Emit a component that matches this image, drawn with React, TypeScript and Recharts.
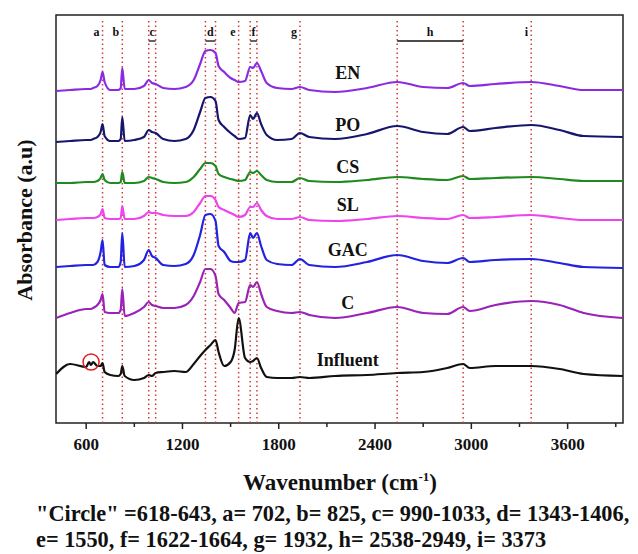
import React from 'react'
import { LineChart, Line, XAxis, YAxis, ReferenceLine, ReferenceDot, ReferenceArea } from 'recharts'

const FONT = "'Liberation Serif', 'Times New Roman', serif"

// wavenumber grid (cm-1)
const wavenumbers = [
  413, 500, 600, 618, 630, 643, 670, 690, 702, 715, 750,
  800, 815, 825, 840, 900, 960, 990, 1010, 1033, 1080,
  1150, 1220, 1270, 1310, 1343, 1375, 1406, 1425, 1460, 1500,
  1525, 1550, 1590, 1622, 1640, 1664, 1690, 1725, 1790, 1880,
  1932, 1990, 2150, 2350, 2538, 2700, 2850, 2949, 2990, 3150,
  3373, 3550, 3700, 3944,
]

// stacked absorbance (offset a.u.)
const en = [
  332, 333, 334, 334, 334, 335, 337, 343, 351, 341, 333,
  333, 335, 355, 334, 334, 337, 343, 340, 339, 335,
  334, 336, 343, 359, 372, 373, 370, 357, 351, 345,
  343, 341, 342, 356, 355, 360, 352, 340, 335, 334,
  336, 333, 331, 335, 341, 336, 335, 340, 337, 339,
  341, 337, 333, 333,
]
const po = [
  281, 282, 283, 283, 283, 284, 286, 291, 299, 287, 282,
  282, 284, 306, 282, 283, 286, 293, 291, 290, 284,
  282, 284, 293, 311, 325, 326, 322, 303, 296, 290,
  287, 284, 285, 308, 304, 310, 299, 288, 283, 284,
  290, 286, 284, 289, 297, 291, 289, 296, 292, 295,
  298, 293, 287, 286,
]
const cs = [
  240, 240, 241, 241, 241, 241, 242, 245, 249, 243, 240,
  240, 241, 251, 240, 240, 242, 246, 245, 244, 241,
  240, 241, 246, 254, 260, 260, 257, 249, 246, 244,
  243, 242, 243, 251, 250, 252, 248, 243, 241, 241,
  245, 242, 241, 243, 246, 244, 243, 247, 244, 245,
  246, 244, 242, 242,
]
const sl = [
  203, 204, 205, 205, 205, 205, 206, 209, 214, 205, 204,
  204, 205, 217, 204, 204, 207, 211, 210, 210, 208,
  207, 207, 211, 220, 227, 227, 223, 216, 213, 210,
  208, 206, 208, 216, 216, 220, 213, 207, 204, 204,
  206, 203, 202, 204, 207, 205, 204, 208, 205, 206,
  208, 205, 203, 203,
]
const gac = [
  156, 157, 158, 158, 158, 158, 161, 171, 183, 158, 156,
  156, 161, 190, 156, 157, 163, 173, 167, 165, 158,
  157, 159, 168, 188, 208, 209, 202, 177, 171, 162,
  161, 161, 163, 190, 185, 190, 177, 163, 159, 158,
  164, 158, 156, 161, 168, 162, 160, 165, 161, 163,
  164, 160, 156, 155,
]
const c = [
  105, 110, 114, 114, 114, 115, 118, 123, 129, 111, 110,
  110, 113, 134, 107, 110, 116, 121, 118, 117, 115,
  115, 118, 127, 141, 154, 154, 147, 129, 123, 115,
  110, 120, 121, 138, 136, 141, 129, 116, 112, 110,
  111, 108, 105, 110, 116, 110, 109, 116, 112, 118,
  122, 118, 110, 105,
]
const influent = [
  49, 59, 56, 61, 58, 61, 57, 57, 60, 51, 48,
  47, 49, 57, 47, 43, 45, 48, 47, 50, 51,
  52, 51, 59, 67, 73, 78, 83, 71, 57, 61,
  73, 105, 65, 61, 62, 65, 55, 46, 45, 45,
  46, 45, 47, 48, 50, 51, 55, 59, 55, 57,
  57, 54, 49, 47,
]

const seriesNames = ['EN', 'PO', 'CS', 'SL', 'GAC', 'C', 'Influent']
const seriesValues = [en, po, cs, sl, gac, c, influent]
const seriesColors = ['#8a2be2', '#16166e', '#1f8a1f', '#ee44ee', '#2222e0', '#9a22b8', '#111111']
const labelLevels = [350, 298, 256, 218, 173, 120, 63]
const labelAt = 2230

const xTicks = [600, 900, 1200, 1500, 1800, 2100, 2400, 2700, 3000, 3300, 3600, 3900]
const majorTicks = [600, 1200, 1800, 2400, 3000, 3600]

const bandLines = [702, 825, 990, 1033, 1343, 1406, 1550, 1622, 1664, 1932, 2538, 2949, 3373]
const bandLabels: { text: string; from: number; to: number }[] = [
  { text: 'a', from: 702, to: 702 },
  { text: 'b', from: 825, to: 825 },
  { text: 'c', from: 990, to: 1033 },
  { text: 'd', from: 1343, to: 1406 },
  { text: 'e', from: 1550, to: 1550 },
  { text: 'f', from: 1622, to: 1664 },
  { text: 'g', from: 1932, to: 1932 },
  { text: 'h', from: 2538, to: 2949 },
  { text: 'i', from: 3373, to: 3373 },
]
const circleRange = [618, 643]

const X_DOMAIN: [number, number] = [412, 3945]
const Y_DOMAIN: [number, number] = [0, 408]

const data = wavenumbers.map((w, i) => {
  const row: Record<string, number> = { w }
  seriesNames.forEach((n, k) => {
    row[n] = seriesValues[k][i]
  })
  return row
})

const circleY = Math.max(
  ...wavenumbers.map((w, i) => (w >= circleRange[0] && w <= circleRange[1] ? influent[i] : 0))
)

const WaveTick = (props: any) => {
  const { x, y, payload } = props
  const major = majorTicks.includes(payload.value)
  return (
    <g>
      <line x1={x} x2={x} y1={y} y2={y + (major ? 6 : 4)} stroke="#222" strokeWidth={1.5} />
      {major && (
        <text x={x} y={y + 27} textAnchor="middle" fontFamily={FONT} fontWeight="bold" fontSize={17} fill="#111">
          {payload.value}
        </text>
      )}
    </g>
  )
}

export default function App() {
  return (
    <div style={{ position: 'fixed', left: 0, top: 0, width: 638, height: 554, overflow: 'hidden', background: '#fff' }}>
      <div style={{ position: 'absolute', left: 0, top: 0 }}>
        <LineChart width={638} height={554} data={data} margin={{ top: 15, right: 15, left: 56, bottom: 101 }}>
          <XAxis
            dataKey="w"
            type="number"
            domain={X_DOMAIN}
            allowDataOverflow
            ticks={xTicks}
            interval={0}
            axisLine={false}
            tickLine={false}
            tickSize={0}
            tickMargin={0}
            height={30}
            tick={<WaveTick />}
          />
          <YAxis hide type="number" domain={Y_DOMAIN} allowDataOverflow />
          {bandLines.map((w) => (
            <ReferenceLine
              key={w}
              segment={[
                { x: w, y: 0 },
                { x: w, y: 403 },
              ]}
              stroke="#d23a3a"
              strokeWidth={1.5}
              strokeDasharray="1.5 3"
            />
          ))}
          {bandLabels
            .filter((b) => b.from !== b.to)
            .map((b) => (
              <ReferenceLine
                key={'u' + b.text}
                segment={[
                  { x: b.from, y: 382 },
                  { x: b.to, y: 382 },
                ]}
                stroke="#111"
                strokeWidth={1.3}
              />
            ))}
          {bandLabels.map((b) => (
            <ReferenceDot
              key={'l' + b.text}
              x={(b.from + b.to) / 2}
              y={387}
              r={0}
              shape={(p: any) => (
                <text
                  x={b.from === b.to ? p.cx - 3 : p.cx}
                  y={p.cy}
                  textAnchor={b.from === b.to ? 'end' : 'middle'}
                  fontFamily={FONT}
                  fontWeight="bold"
                  fontSize={12}
                  fill="#111"
                >
                  {b.text}
                </text>
              )}
            />
          ))}
          {seriesNames.map((n, k) => (
            <Line
              key={n}
              dataKey={n}
              type="monotone"
              stroke={seriesColors[k]}
              strokeWidth={2.2}
              dot={false}
              isAnimationActive={false}
            />
          ))}
          {seriesNames.map((n, k) => (
            <ReferenceDot
              key={'n' + n}
              x={labelAt}
              y={labelLevels[k]}
              r={0}
              shape={(p: any) => (
                <text
                  x={p.cx}
                  y={p.cy}
                  textAnchor="middle"
                  dominantBaseline="central"
                  fontFamily={FONT}
                  fontWeight="bold"
                  fontSize={18}
                  fill="#111"
                >
                  {n}
                </text>
              )}
            />
          ))}
          <ReferenceDot
            x={(circleRange[0] + circleRange[1]) / 2}
            y={circleY}
            r={8}
            fill="none"
            stroke="#e02020"
            strokeWidth={1.5}
          />
          <ReferenceArea
            x1={X_DOMAIN[0]}
            x2={X_DOMAIN[1]}
            y1={Y_DOMAIN[0]}
            y2={Y_DOMAIN[1]}
            fill="none"
            fillOpacity={0}
            stroke="#222"
            strokeWidth={1.5}
          />
        </LineChart>
      </div>
      <div
        style={{
          position: 'absolute',
          left: 25,
          top: 220,
          transform: 'translate(-50%, -50%) rotate(-90deg)',
          whiteSpace: 'nowrap',
          fontFamily: FONT,
          fontWeight: 'bold',
          fontSize: 22,
          lineHeight: 1,
          color: '#111',
        }}
      >
        Absorbance (a.u)
      </div>
      <div
        style={{
          position: 'absolute',
          left: 340,
          top: 482,
          transform: 'translate(-50%, -50%)',
          whiteSpace: 'nowrap',
          fontFamily: FONT,
          fontWeight: 'bold',
          fontSize: 23,
          lineHeight: 1,
          color: '#111',
        }}
      >
        Wavenumber (cm<sup style={{ fontSize: 13 }}>-1</sup>)
      </div>
      <div
        style={{
          position: 'absolute',
          left: 36,
          top: 501,
          whiteSpace: 'nowrap',
          fontFamily: FONT,
          fontWeight: 'bold',
          fontSize: 22.3,
          lineHeight: '26px',
          color: '#111',
        }}
      >
        <div>"Circle" =618-643, a= 702, b= 825, c= 990-1033, d= 1343-1406,</div>
        <div>e= 1550, f= 1622-1664, g= 1932, h= 2538-2949, i= 3373</div>
      </div>
    </div>
  )
}
